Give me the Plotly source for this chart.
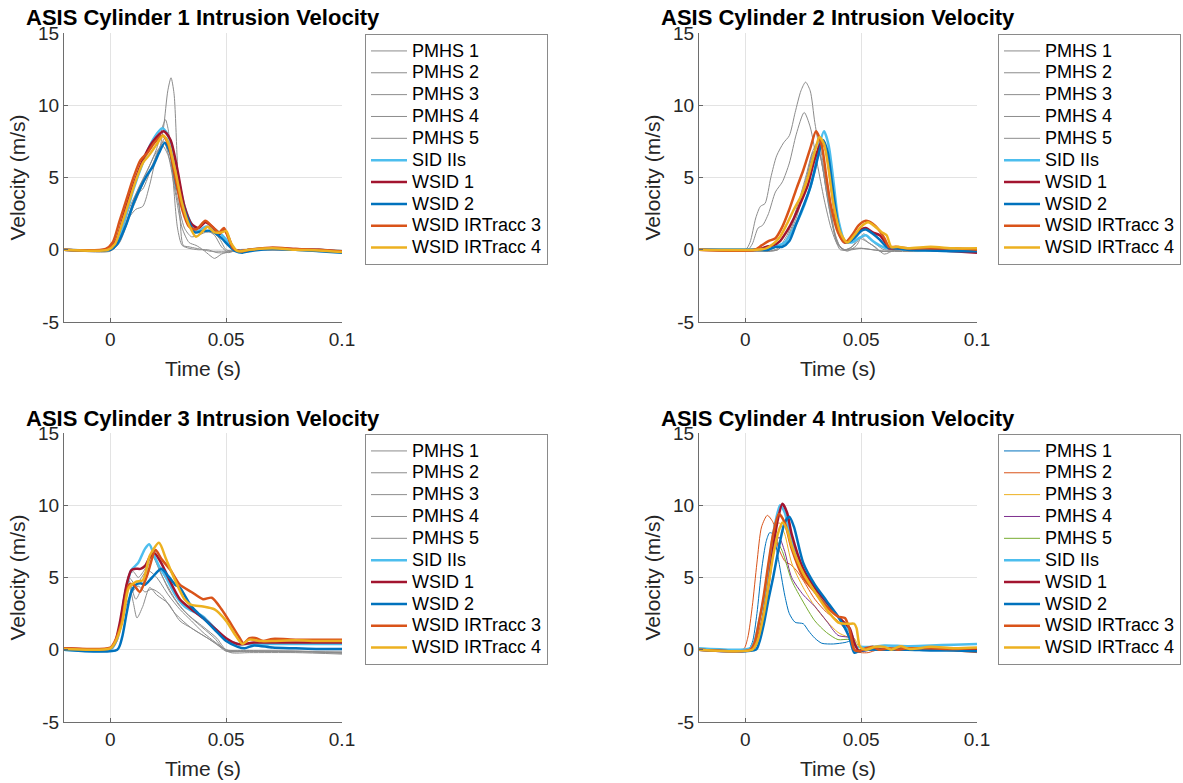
import plotly.graph_objects as go

# ---------------- data ----------------
series_names = ["PMHS 1", "PMHS 2", "PMHS 3", "PMHS 4", "PMHS 5",
                "SID IIs", "WSID 1", "WSID 2", "WSID IRTracc 3", "WSID IRTracc 4"]
panel_titles = ["ASIS Cylinder 1 Intrusion Velocity", "ASIS Cylinder 2 Intrusion Velocity",
                "ASIS Cylinder 3 Intrusion Velocity", "ASIS Cylinder 4 Intrusion Velocity"]
x_ticks = [0, 0.05, 0.1]
x_tick_labels = ["0", "0.05", "0.1"]
y_ticks = [-5, 0, 5, 10, 15]
y_tick_labels = ["-5", "0", "5", "10", "15"]

# Cylinder 1
c1_t = [
    [-0.02, -0.002, 0.002, 0.006, 0.010, 0.014, 0.018, 0.021, 0.023, 0.0248, 0.0262, 0.0275, 0.0288, 0.030, 0.0315, 0.034, 0.037, 0.040, 0.043, 0.046, 0.050, 0.055, 0.06, 0.07, 0.08, 0.09, 0.1],
    [-0.02, 0, 0.004, 0.008, 0.012, 0.016, 0.020, 0.0225, 0.0238, 0.025, 0.027, 0.029, 0.031, 0.034, 0.038, 0.042, 0.046, 0.05, 0.055, 0.06, 0.1],
    [-0.02, 0, 0.004, 0.008, 0.011, 0.014, 0.017, 0.020, 0.023, 0.026, 0.029, 0.032, 0.035, 0.038, 0.041, 0.044, 0.047, 0.050, 0.054, 0.06, 0.1],
    [-0.02, 0, 0.004, 0.008, 0.012, 0.016, 0.020, 0.0225, 0.025, 0.028, 0.031, 0.034, 0.037, 0.040, 0.043, 0.045, 0.048, 0.052, 0.058, 0.1],
    [-0.02, 0, 0.004, 0.008, 0.011, 0.014, 0.018, 0.021, 0.024, 0.027, 0.030, 0.033, 0.036, 0.039, 0.042, 0.045, 0.048, 0.051, 0.055, 0.1],
    [-0.02, -0.002, 0.002, 0.006, 0.010, 0.014, 0.018, 0.0225, 0.026, 0.029, 0.032, 0.035, 0.038, 0.041, 0.044, 0.047, 0.050, 0.053, 0.056, 0.06, 0.07, 0.08, 0.09, 0.1],
    [-0.02, -0.002, 0.002, 0.006, 0.010, 0.014, 0.018, 0.023, 0.026, 0.029, 0.032, 0.035, 0.038, 0.041, 0.044, 0.047, 0.049, 0.051, 0.053, 0.056, 0.06, 0.07, 0.08, 0.09, 0.1],
    [-0.02, 0, 0.003, 0.007, 0.010, 0.013, 0.0156, 0.0185, 0.021, 0.0235, 0.026, 0.0286, 0.031, 0.033, 0.0366, 0.040, 0.044, 0.048, 0.051, 0.054, 0.057, 0.06, 0.07, 0.08, 0.09, 0.1],
    [-0.02, -0.002, 0.001, 0.004, 0.007, 0.010, 0.013, 0.016, 0.019, 0.0225, 0.025, 0.028, 0.031, 0.034, 0.037, 0.041, 0.044, 0.047, 0.049, 0.051, 0.053, 0.056, 0.06, 0.07, 0.08, 0.09, 0.1],
    [-0.02, -0.001, 0.002, 0.005, 0.008, 0.011, 0.014, 0.017, 0.020, 0.0228, 0.025, 0.028, 0.031, 0.034, 0.037, 0.040, 0.042, 0.045, 0.048, 0.050, 0.052, 0.055, 0.06, 0.07, 0.08, 0.09, 0.1],
]
c1_v = [
    [0, 0, 0.3, 1.5, 3.0, 4.5, 5.8, 6.8, 8.5, 11.0, 11.9, 10.8, 6.5, 2.5, 0.3, 0.2, 0.1, 0.0, -0.1, -0.1, -0.1, -0.05, 0, 0.05, 0, -0.05, -0.1],
    [0, 0, 0.8, 2.8, 4.2, 5.5, 7.0, 8.5, 9.0, 8.3, 5.0, 1.5, 0.3, 0.1, 0.0, 0.0, -0.2, -0.2, 0, 0, -0.1],
    [0, 0, 0.6, 2.2, 2.8, 3.0, 4.5, 6.5, 7.5, 6.0, 3.5, 1.5, 0.9, 1.0, 1.2, 1.2, 0.8, 0.0, -0.1, 0, -0.1],
    [0, 0, 0.7, 2.5, 4.2, 5.5, 6.8, 7.2, 6.5, 4.0, 1.5, 0.5, 0.3, 0.0, -0.4, -0.6, -0.3, -0.1, 0, -0.1],
    [0, -0.1, 0.5, 2.2, 3.8, 4.2, 5.8, 7.0, 7.8, 6.5, 4.0, 2.2, 1.5, 1.3, 1.3, 1.0, 0.2, -0.2, 0, -0.1],
    [0, 0, 0.3, 2.0, 4.2, 6.0, 7.5, 8.4, 7.5, 5.2, 3.0, 1.8, 1.3, 1.6, 1.5, 1.2, 0.7, 0.0, -0.1, 0, 0.1, 0, 0, -0.1],
    [0, 0, 0.5, 2.5, 4.5, 6.2, 7.4, 8.2, 7.6, 5.5, 3.0, 1.8, 1.5, 1.9, 1.6, 1.1, 1.4, 0.9, 0.1, -0.1, 0, 0.1, 0.05, 0, -0.15],
    [0, 0, 0.4, 1.8, 3.2, 4.3, 5.1, 5.8, 6.7, 7.4, 6.6, 4.4, 3.2, 2.3, 1.2, 1.3, 1.3, 0.8, 0.3, -0.1, -0.2, -0.1, 0.05, 0, -0.1, -0.2],
    [0, 0.05, 0.5, 2.0, 3.5, 5.0, 6.2, 6.7, 7.4, 7.9, 7.3, 5.0, 2.8, 1.6, 1.4, 2.0, 1.6, 1.2, 1.5, 0.8, 0.1, -0.1, 0, 0.15, 0.05, 0, -0.1],
    [0, 0, 0.4, 1.8, 3.3, 4.8, 6.0, 6.6, 7.3, 7.9, 7.4, 5.5, 3.2, 1.7, 0.9, 1.3, 1.6, 1.2, 1.2, 1.3, 0.5, -0.1, 0, 0.1, 0, -0.05, -0.15],
]

# Cylinder 2
c2_t = [
    [-0.02, 0, 0.002, 0.0045, 0.0065, 0.0085, 0.011, 0.0135, 0.0165, 0.019, 0.0215, 0.024, 0.026, 0.028, 0.030, 0.033, 0.0346, 0.037, 0.039, 0.041, 0.046, 0.05, 0.055, 0.06, 0.07, 0.1],
    [-0.02, 0.001, 0.003, 0.0055, 0.0075, 0.010, 0.013, 0.016, 0.019, 0.022, 0.0254, 0.028, 0.031, 0.034, 0.037, 0.040, 0.043, 0.047, 0.05, 0.055, 0.06, 0.1],
    [-0.02, 0.005, 0.010, 0.014, 0.018, 0.022, 0.026, 0.029, 0.031, 0.033, 0.036, 0.039, 0.042, 0.045, 0.048, 0.050, 0.053, 0.056, 0.06, 0.065, 0.1],
    [-0.02, 0.005, 0.010, 0.014, 0.018, 0.022, 0.026, 0.029, 0.0315, 0.034, 0.037, 0.040, 0.043, 0.046, 0.049, 0.052, 0.055, 0.058, 0.062, 0.07, 0.1],
    [-0.02, 0.005, 0.010, 0.014, 0.018, 0.022, 0.026, 0.0295, 0.032, 0.035, 0.038, 0.041, 0.044, 0.048, 0.051, 0.054, 0.057, 0.060, 0.065, 0.1],
    [-0.02, 0.005, 0.009, 0.013, 0.017, 0.021, 0.024, 0.027, 0.030, 0.032, 0.034, 0.036, 0.038, 0.040, 0.043, 0.046, 0.049, 0.052, 0.055, 0.058, 0.061, 0.065, 0.07, 0.08, 0.09, 0.1],
    [-0.02, 0.005, 0.009, 0.012, 0.015, 0.018, 0.021, 0.024, 0.027, 0.030, 0.033, 0.035, 0.037, 0.039, 0.041, 0.043, 0.046, 0.049, 0.052, 0.055, 0.058, 0.060, 0.062, 0.065, 0.07, 0.08, 0.09, 0.1],
    [-0.02, 0.005, 0.010, 0.013, 0.016, 0.019, 0.022, 0.025, 0.028, 0.031, 0.0335, 0.0355, 0.0375, 0.040, 0.042, 0.044, 0.047, 0.050, 0.052, 0.055, 0.058, 0.061, 0.065, 0.07, 0.08, 0.09, 0.1],
    [-0.02, 0.004, 0.007, 0.010, 0.013, 0.016, 0.019, 0.022, 0.025, 0.028, 0.0305, 0.033, 0.035, 0.037, 0.040, 0.043, 0.046, 0.049, 0.052, 0.055, 0.058, 0.060, 0.062, 0.065, 0.07, 0.08, 0.09, 0.1],
    [-0.02, 0.005, 0.009, 0.012, 0.015, 0.018, 0.021, 0.024, 0.027, 0.030, 0.032, 0.034, 0.036, 0.038, 0.041, 0.044, 0.047, 0.050, 0.053, 0.056, 0.059, 0.061, 0.063, 0.066, 0.07, 0.08, 0.09, 0.1],
]
c2_v = [
    [0, 0, 0.5, 2.2, 3.0, 3.2, 5.0, 6.5, 7.4, 7.9, 9.5, 11.0, 11.6, 11.0, 8.8, 6.0, 4.6, 2.5, 0.7, 0.0, 0.0, 0.1, 0.0, -0.1, 0.0, -0.1],
    [0, 0, 0.4, 1.5, 1.7, 2.5, 4.0, 4.7, 6.0, 8.0, 9.5, 8.5, 6.0, 3.5, 1.5, 0.3, 0.0, 0.1, 0.1, 0.0, -0.1, -0.1],
    [0, -0.1, -0.1, 0.0, 0.8, 2.5, 4.8, 6.5, 7.2, 6.0, 3.0, 0.8, 0.0, 0.1, 0.5, 0.9, 0.5, 0.2, -0.3, 0.0, -0.1],
    [0, -0.1, -0.1, 0.1, 1.0, 2.8, 5.0, 6.8, 7.5, 5.5, 2.5, 0.4, 0.0, 0.2, 0.8, 0.6, 0.3, -0.1, -0.1, 0.0, -0.1],
    [0, -0.05, -0.1, 0.0, 0.7, 2.2, 4.5, 6.8, 6.6, 4.0, 1.5, 0.2, -0.1, 0.3, 1.1, 0.7, 0.3, 0.0, 0.0, -0.1],
    [0, 0, 0.0, 0.2, 0.5, 1.5, 2.5, 3.8, 5.5, 7.3, 8.2, 7.2, 4.8, 2.2, 0.6, 0.5, 0.8, 1.0, 0.6, 0.3, 0.1, 0.1, 0.0, -0.05, 0, -0.1],
    [0, 0, 0.2, 0.3, 0.6, 1.3, 2.2, 3.3, 4.5, 6.3, 7.5, 6.8, 4.5, 2.2, 0.9, 0.5, 0.8, 1.3, 1.5, 1.2, 1.0, 0.6, 0.1, 0.1, 0.1, 0.0, -0.1, -0.2],
    [0, 0, 0.0, 0.2, 0.2, 0.6, 1.8, 3.0, 4.3, 6.2, 7.6, 6.8, 4.5, 1.8, 0.7, 0.5, 0.8, 1.3, 1.4, 1.1, 0.7, 0.2, 0.1, 0.0, -0.05, -0.1, -0.1],
    [0, 0, 0.3, 0.6, 0.8, 1.6, 2.8, 4.2, 5.5, 7.0, 8.2, 7.2, 5.0, 3.0, 1.2, 0.5, 1.0, 1.7, 2.0, 1.8, 1.3, 0.8, 0.2, 0.2, 0.1, 0.1, 0.1, 0.0],
    [0, 0, 0.1, 0.4, 0.9, 1.8, 2.8, 3.7, 5.0, 6.8, 7.8, 7.3, 5.5, 3.2, 1.2, 0.5, 1.0, 1.6, 1.9, 1.6, 1.2, 1.0, 0.2, 0.2, 0.1, 0.2, 0.1, 0.1],
]

# Cylinder 3
c3_t = [
    [-0.02, 0, 0.003, 0.006, 0.008, 0.010, 0.012, 0.015, 0.018, 0.020, 0.025, 0.030, 0.035, 0.040, 0.045, 0.050, 0.055, 0.06, 0.07, 0.08, 0.1],
    [-0.02, 0, 0.003, 0.006, 0.008, 0.010, 0.0115, 0.014, 0.017, 0.020, 0.025, 0.030, 0.035, 0.040, 0.045, 0.050, 0.06, 0.08, 0.1],
    [-0.02, 0, 0.003, 0.006, 0.008, 0.011, 0.014, 0.018, 0.022, 0.028, 0.033, 0.040, 0.046, 0.050, 0.06, 0.08, 0.1],
    [-0.02, 0, 0.003, 0.006, 0.008, 0.011, 0.016, 0.020, 0.025, 0.030, 0.035, 0.040, 0.048, 0.052, 0.06, 0.08, 0.1],
    [-0.02, 0, 0.003, 0.006, 0.008, 0.012, 0.015, 0.018, 0.022, 0.028, 0.035, 0.042, 0.050, 0.06, 0.08, 0.1],
    [-0.02, 0, 0.002, 0.004, 0.006, 0.009, 0.012, 0.015, 0.0168, 0.019, 0.021, 0.024, 0.028, 0.032, 0.035, 0.040, 0.045, 0.050, 0.055, 0.06, 0.07, 0.08, 0.09, 0.1],
    [-0.02, 0, 0.002, 0.004, 0.007, 0.009, 0.011, 0.013, 0.015, 0.017, 0.019, 0.022, 0.025, 0.030, 0.035, 0.040, 0.045, 0.050, 0.055, 0.058, 0.062, 0.07, 0.08, 0.09, 0.1],
    [-0.02, 0.003, 0.005, 0.007, 0.009, 0.011, 0.013, 0.015, 0.018, 0.022, 0.025, 0.028, 0.030, 0.035, 0.040, 0.045, 0.050, 0.055, 0.058, 0.062, 0.07, 0.08, 0.09, 0.1],
    [-0.02, 0, 0.002, 0.005, 0.008, 0.010, 0.0127, 0.016, 0.0195, 0.022, 0.026, 0.030, 0.035, 0.040, 0.0438, 0.048, 0.052, 0.0555, 0.0575, 0.060, 0.063, 0.066, 0.07, 0.08, 0.09, 0.1],
    [-0.02, 0, 0.002, 0.005, 0.008, 0.011, 0.014, 0.017, 0.021, 0.024, 0.028, 0.032, 0.035, 0.040, 0.045, 0.050, 0.054, 0.057, 0.060, 0.065, 0.07, 0.08, 0.09, 0.1],
]
c3_v = [
    [0, 0, 0.8, 3.5, 5.2, 5.4, 5.0, 5.6, 6.7, 6.0, 4.2, 3.0, 2.2, 1.5, 0.8, -0.1, -0.1, -0.1, -0.1, -0.15, -0.2],
    [0, 0, 0.8, 3.2, 4.5, 3.2, 2.2, 3.0, 4.3, 3.8, 3.2, 2.0, 1.5, 1.0, 0.5, -0.1, -0.1, -0.1, -0.2],
    [0, 0, 0.7, 3.5, 4.8, 3.5, 4.5, 6.5, 5.2, 3.5, 2.5, 1.6, 0.8, 0.0, -0.1, -0.1, -0.25],
    [0, 0, 0.9, 3.8, 5.0, 4.5, 5.5, 5.0, 3.8, 2.8, 2.0, 1.2, 0.2, -0.2, -0.2, -0.2, -0.3],
    [0, 0, 0.6, 2.5, 3.6, 4.4, 4.0, 4.2, 3.8, 2.5, 1.5, 0.8, 0.0, -0.05, -0.1, -0.1],
    [0, 0, 0.4, 1.5, 3.5, 5.5, 6.0, 7.0, 7.3, 6.5, 5.8, 5.0, 3.8, 3.0, 2.7, 2.3, 1.5, 0.7, 0.4, 0.4, 0.4, 0.4, 0.4, 0.4],
    [0.1, 0.1, 0.5, 1.8, 4.5, 5.5, 5.6, 5.6, 5.8, 6.4, 6.7, 6.0, 5.0, 3.5, 2.8, 2.2, 1.5, 0.8, 0.4, 0.4, 0.5, 0.5, 0.5, 0.5, 0.5],
    [0, 0, 0.8, 2.5, 4.0, 4.5, 4.6, 4.5, 5.0, 5.6, 5.1, 4.5, 4.3, 3.0, 2.2, 1.4, 0.6, 0.2, 0.1, 0.3, 0.15, 0.1, 0.05, 0.05],
    [0.1, 0.15, 0.6, 2.0, 4.5, 4.5, 4.0, 5.2, 6.9, 6.3, 5.5, 4.5, 4.0, 3.5, 3.6, 2.8, 1.8, 0.9, 0.45, 0.8, 0.8, 0.6, 0.75, 0.7, 0.7, 0.7],
    [0.05, 0.1, 0.5, 1.8, 4.3, 4.7, 4.8, 6.5, 7.4, 6.3, 4.8, 3.5, 3.1, 3.0, 2.8, 2.0, 1.0, 0.4, 0.7, 0.6, 0.6, 0.65, 0.6, 0.6],
]

# Cylinder 4
c4_t = [
    [-0.02, 0.001, 0.003, 0.005, 0.007, 0.009, 0.0105, 0.012, 0.014, 0.0171, 0.019, 0.0215, 0.025, 0.0273, 0.030, 0.033, 0.038, 0.043, 0.046, 0.048, 0.050, 0.055, 0.06, 0.07, 0.08, 0.1],
    [-0.02, -0.001, 0.001, 0.003, 0.005, 0.007, 0.0095, 0.012, 0.0142, 0.0172, 0.0195, 0.022, 0.025, 0.030, 0.035, 0.040, 0.044, 0.046, 0.048, 0.050, 0.053, 0.057, 0.06, 0.07, 0.08, 0.1],
    [-0.02, 0.002, 0.004, 0.006, 0.008, 0.011, 0.0145, 0.017, 0.020, 0.025, 0.030, 0.035, 0.040, 0.044, 0.047, 0.049, 0.052, 0.06, 0.08, 0.1],
    [-0.02, 0.003, 0.005, 0.007, 0.009, 0.012, 0.0145, 0.017, 0.020, 0.025, 0.030, 0.035, 0.040, 0.046, 0.048, 0.050, 0.055, 0.06, 0.08, 0.1],
    [-0.02, 0.003, 0.005, 0.007, 0.009, 0.0115, 0.0135, 0.016, 0.020, 0.025, 0.030, 0.035, 0.040, 0.045, 0.048, 0.050, 0.055, 0.06, 0.08, 0.1],
    [-0.02, 0.002, 0.004, 0.006, 0.008, 0.010, 0.012, 0.015, 0.017, 0.020, 0.025, 0.030, 0.035, 0.040, 0.044, 0.046, 0.048, 0.050, 0.055, 0.06, 0.07, 0.08, 0.09, 0.1],
    [-0.02, 0.003, 0.005, 0.008, 0.010, 0.012, 0.014, 0.016, 0.018, 0.020, 0.025, 0.030, 0.035, 0.040, 0.045, 0.047, 0.049, 0.051, 0.055, 0.06, 0.07, 0.08, 0.09, 0.1],
    [-0.02, 0.0045, 0.006, 0.008, 0.010, 0.012, 0.015, 0.017, 0.019, 0.021, 0.025, 0.030, 0.035, 0.040, 0.043, 0.045, 0.047, 0.049, 0.052, 0.06, 0.07, 0.08, 0.09, 0.1],
    [-0.02, 0.002, 0.004, 0.006, 0.008, 0.010, 0.012, 0.0145, 0.017, 0.020, 0.025, 0.030, 0.035, 0.040, 0.043, 0.045, 0.047, 0.049, 0.052, 0.055, 0.058, 0.062, 0.066, 0.07, 0.08, 0.09, 0.1],
    [-0.02, 0.003, 0.005, 0.008, 0.010, 0.012, 0.014, 0.016, 0.018, 0.020, 0.025, 0.030, 0.035, 0.040, 0.043, 0.045, 0.047, 0.048, 0.0495, 0.052, 0.056, 0.060, 0.063, 0.067, 0.071, 0.08, 0.09, 0.1],
]
c4_v = [
    [0, 0, 0.5, 2.5, 5.5, 7.5, 8.1, 8.0, 6.5, 3.7, 2.5, 1.9, 1.8, 1.3, 0.8, 0.45, 0.4, 0.5, 0.6, 0.1, -0.1, 0.0, 0.0, 0.1, 0.0, -0.05],
    [0, 0, 0.8, 3.0, 6.0, 8.5, 9.3, 8.8, 7.1, 6.1, 5.9, 5.5, 4.8, 3.5, 2.6, 2.0, 1.2, 0.5, -0.1, -0.2, -0.2, 0.0, 0.1, -0.05, 0.0, -0.2],
    [0, 0, 0.5, 1.8, 3.8, 7.0, 8.8, 8.0, 6.0, 4.3, 3.0, 2.0, 1.2, 0.9, 0.8, 0.2, 0.0, 0.1, 0.1, 0.1],
    [0, 0, 0.5, 1.8, 3.8, 6.5, 7.8, 6.8, 5.0, 3.8, 3.0, 2.0, 1.0, 0.8, 0.1, -0.1, 0.0, 0.1, 0.1, 0.0],
    [0, 0, 0.6, 2.0, 4.0, 6.5, 7.5, 6.8, 4.8, 3.3, 2.0, 1.2, 0.7, 0.7, 0.1, 0.0, 0.1, 0.1, 0.15, 0.1],
    [0.1, 0.1, 0.6, 2.0, 3.5, 5.5, 8.0, 10.0, 9.5, 7.5, 5.5, 4.3, 3.2, 2.3, 1.5, 1.0, 0.2, 0.2, 0.2, 0.3, 0.25, 0.3, 0.35, 0.4],
    [0, 0, 0.6, 2.5, 4.5, 7.0, 9.0, 10.1, 9.5, 8.0, 5.6, 4.3, 3.3, 2.3, 1.5, 0.5, -0.1, 0.0, 0.1, 0.0, 0.1, 0.0, 0.0, 0.0],
    [0, 0, 0.5, 1.8, 3.5, 5.0, 7.5, 8.8, 9.2, 8.5, 6.0, 4.5, 3.4, 2.3, 1.5, 0.8, -0.2, -0.1, 0.0, 0.0, 0.0, -0.05, -0.05, -0.1],
    [0, 0, 0.5, 2.0, 3.8, 6.0, 8.0, 9.4, 8.8, 7.0, 5.0, 4.0, 3.0, 2.3, 2.2, 1.4, 0.0, -0.1, 0.1, 0.2, 0.0, 0.1, 0.0, 0.1, 0.1, 0.05, 0.1],
    [0, 0, 0.5, 2.5, 4.5, 6.5, 8.0, 8.8, 8.3, 7.2, 5.3, 4.0, 2.8, 1.9, 1.8, 1.8, 1.8, 1.5, 0.2, 0.0, 0.2, 0.2, 0.0, 0.25, 0.05, 0.2, 0.1, 0.15],
]

# ---------------- styles ----------------
GRAY = "#8c8c8c"
pmhs_gray = [GRAY] * 5
pmhs_colored = ["#0072BD", "#D95319", "#EDB120", "#7E2F8E", "#77AC30"]
dummy_colors = ["#4DBEEE", "#A2142F", "#0072BD", "#D95319", "#EDB120"]
FONT = "Liberation Sans, Arial, Helvetica, sans-serif"

W, H = 1183, 783


def px(x):
    return x / W


def py(y):
    return 1 - y / H


# pixel boxes of axes (left, right, top, bottom)
boxes = [(64, 342, 33, 322), (699, 977, 33, 322), (64, 342, 433, 722), (699, 977, 433, 722)]
legend_pos = [(365, 34), (998, 34), (365, 434), (998, 434)]
title_pos = [(24, 18), (659, 18), (24, 418), (659, 418)]

panels = [(c1_t, c1_v, pmhs_gray), (c2_t, c2_v, pmhs_gray),
          (c3_t, c3_v, pmhs_gray), (c4_t, c4_v, pmhs_colored)]

fig = go.Figure()
layout = dict(width=W, height=H, margin=dict(l=0, r=0, t=0, b=0),
              paper_bgcolor="white", plot_bgcolor="white",
              font=dict(family=FONT, color="#262626"), showlegend=True,
              hovermode=False, annotations=[])

for i, (tt, vv, pcols) in enumerate(panels):
    k = "" if i == 0 else str(i + 1)
    colors = pcols + dummy_colors
    lg = "legend" + k
    for j, name in enumerate(series_names):
        thick = j >= 5
        fig.add_trace(go.Scatter(
            x=tt[j], y=vv[j], mode="lines",
            name='<span style="font-size:18px">' + name + '</span>',
            line=dict(color=colors[j], width=2.5 if thick else 1.0,
                      shape="spline", smoothing=0.7),
            xaxis="x" + k, yaxis="y" + k, legend=lg))
    l, r, t, b = boxes[i]
    layout["xaxis" + k] = dict(
        domain=[px(l), px(r)], anchor="y" + k, range=[-0.02, 0.1],
        tickvals=x_ticks, ticktext=x_tick_labels, ticks="inside", ticklen=4,
        tickcolor="#666666", showline=True, linecolor="#6e6e6e", linewidth=1,
        showgrid=True, gridcolor="#e3e3e3", zeroline=False, automargin=False,
        tickfont=dict(size=19, family=FONT, color="#262626"),
        title=dict(text="Time (s)", font=dict(size=21, family=FONT, color="#262626"), standoff=12))
    layout["yaxis" + k] = dict(
        domain=[py(b), py(t)], anchor="x" + k, range=[-5, 15],
        tickvals=y_ticks, ticktext=y_tick_labels, ticks="inside", ticklen=4,
        tickcolor="#666666", showline=True, linecolor="#6e6e6e", linewidth=1,
        showgrid=True, gridcolor="#e3e3e3", zeroline=False, automargin=False,
        tickfont=dict(size=19, family=FONT, color="#262626"),
        title=dict(text="Velocity (m/s)", font=dict(size=21, family=FONT, color="#262626"), standoff=6))
    lx, ly = legend_pos[i]
    layout[lg] = dict(x=px(lx), y=py(ly), xanchor="left", yanchor="top",
                      bgcolor="white", bordercolor="#8a8a8a", borderwidth=1,
                      font=dict(size=14.5, family=FONT, color="#000000"),
                      itemwidth=36, tracegroupgap=0)
    tx, ty = title_pos[i]
    layout["annotations"].append(dict(
        text="<b>" + panel_titles[i] + "</b>", x=px(tx), y=py(ty),
        xref="paper", yref="paper", xanchor="left", yanchor="middle",
        showarrow=False, font=dict(size=22, family=FONT, color="#000000")))

fig.update_layout(**layout)
fig.write_html("out.html", config={"displayModeBar": False},
               post_script="document.body.style.margin='0px';document.body.style.overflow='hidden';")
